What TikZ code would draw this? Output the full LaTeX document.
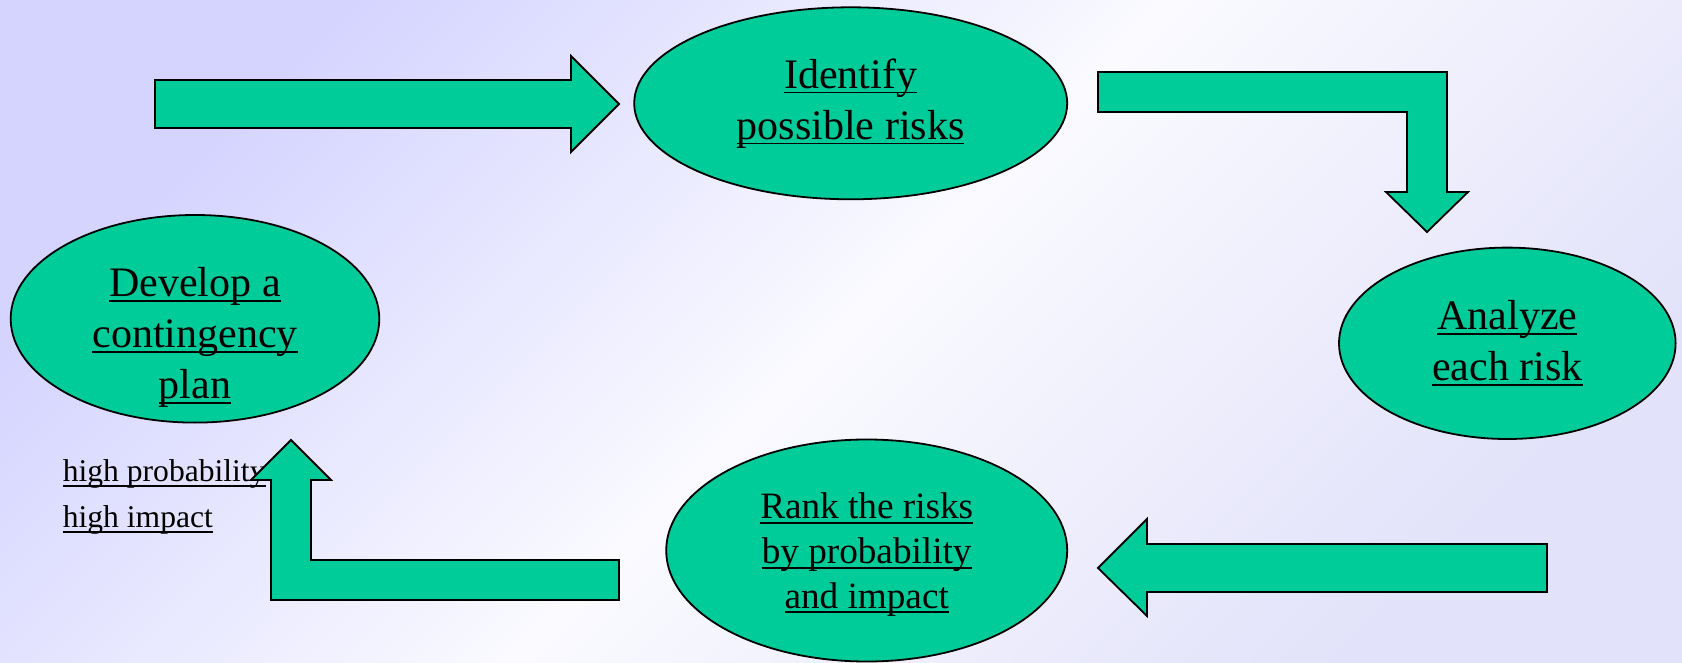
\documentclass[tikz,border=0pt]{standalone}
\usepackage{fontspec}
\setmainfont{Liberation Serif}
\usetikzlibrary{shapes.geometric}
\definecolor{stagegreen}{RGB}{0,204,153}
\definecolor{lavender}{RGB}{212,212,255}
\definecolor{lavenderpale}{RGB}{226,226,250}
\definecolor{paper}{RGB}{250,250,255}
% underline set close to the baseline, running through descenders
\newsavebox{\ulbox}
\newcommand{\ulink}[1]{\sbox{\ulbox}{#1}\rlap{\rule[-2.6pt]{\wd\ulbox}{0.9pt}}\usebox{\ulbox}}
\begin{document}
\begin{tikzpicture}[x=0.5pt,y=0.5pt]
  \tikzset{
    stage/.style={ellipse, draw=black, line width=0.9pt, fill=stagegreen, inner sep=0pt},
    blockarrow/.style={draw=black, line width=0.9pt, fill=stagegreen},
    bigtext/.style={align=center, inner sep=0pt, font=\fontsize{21}{25.5}\selectfont},
    midtext/.style={align=center, inner sep=0pt, font=\fontsize{18.6}{22.3}\selectfont},
    notetext/.style={inner sep=0pt, anchor=base west, font=\fontsize{15.8}{19}\selectfont}
  }
  \useasboundingbox (0,0) rectangle (1682,-663);
  \shade [top color=lavender, bottom color=lavenderpale, middle color=paper, shading angle=45]
    (0,0) rectangle (1682,-663);

  \node [stage, minimum width=216.5pt, minimum height=96pt] (identify) at (850.7,-103.3) {};
  \node [bigtext] (identifytext) at (identify) {\ulink{Identify}\\\ulink{possible risks}};
  \node [stage, minimum width=168.3pt, minimum height=95.7pt] (analyze) at (1507.3,-343.3) {};
  \node [bigtext] (analyzetext) at (analyze) {\ulink{Analyze}\\\ulink{each risk}};
  \node [stage, minimum width=200.5pt, minimum height=111pt] (rank) at (866.7,-550.5) {};
  \node [midtext] (ranktext) at ([yshift=-2pt]rank.center) {\ulink{Rank the risks}\\\ulink{by probability}\\\ulink{and impact}};
  \node [stage, minimum width=184.3pt, minimum height=103.8pt] (plan) at (195,-318.8) {};
  \node [bigtext] (plantext) at ([yshift=-9.5pt]plan.center) {\ulink{Develop a}\\\ulink{contingency}\\\ulink{plan}};

  \node [notetext] (probnote) at (62.4,-481.7) {\ulink{high probability}};
  \node [notetext] (impactnote) at (62.4,-527.7) {\ulink{high impact}};

  \draw [blockarrow] (155,-80) -- (571,-80) -- (571,-56) -- (619,-104) -- (571,-152)
    -- (571,-128) -- (155,-128) -- cycle;
  \draw [blockarrow] (1098,-72) -- (1447,-72) -- (1447,-192) -- (1468,-192) -- (1427,-232)
    -- (1386,-192) -- (1407,-192) -- (1407,-112) -- (1098,-112) -- cycle;
  \draw [blockarrow] (1547,-544) -- (1147,-544) -- (1147,-519) -- (1098,-568) -- (1147,-616)
    -- (1147,-592) -- (1547,-592) -- cycle;
  \draw [blockarrow] (619,-560) -- (311,-560) -- (311,-480) -- (331,-480) -- (291,-440)
    -- (251,-480) -- (271,-480) -- (271,-600) -- (619,-600) -- cycle;
\end{tikzpicture}
\end{document}
